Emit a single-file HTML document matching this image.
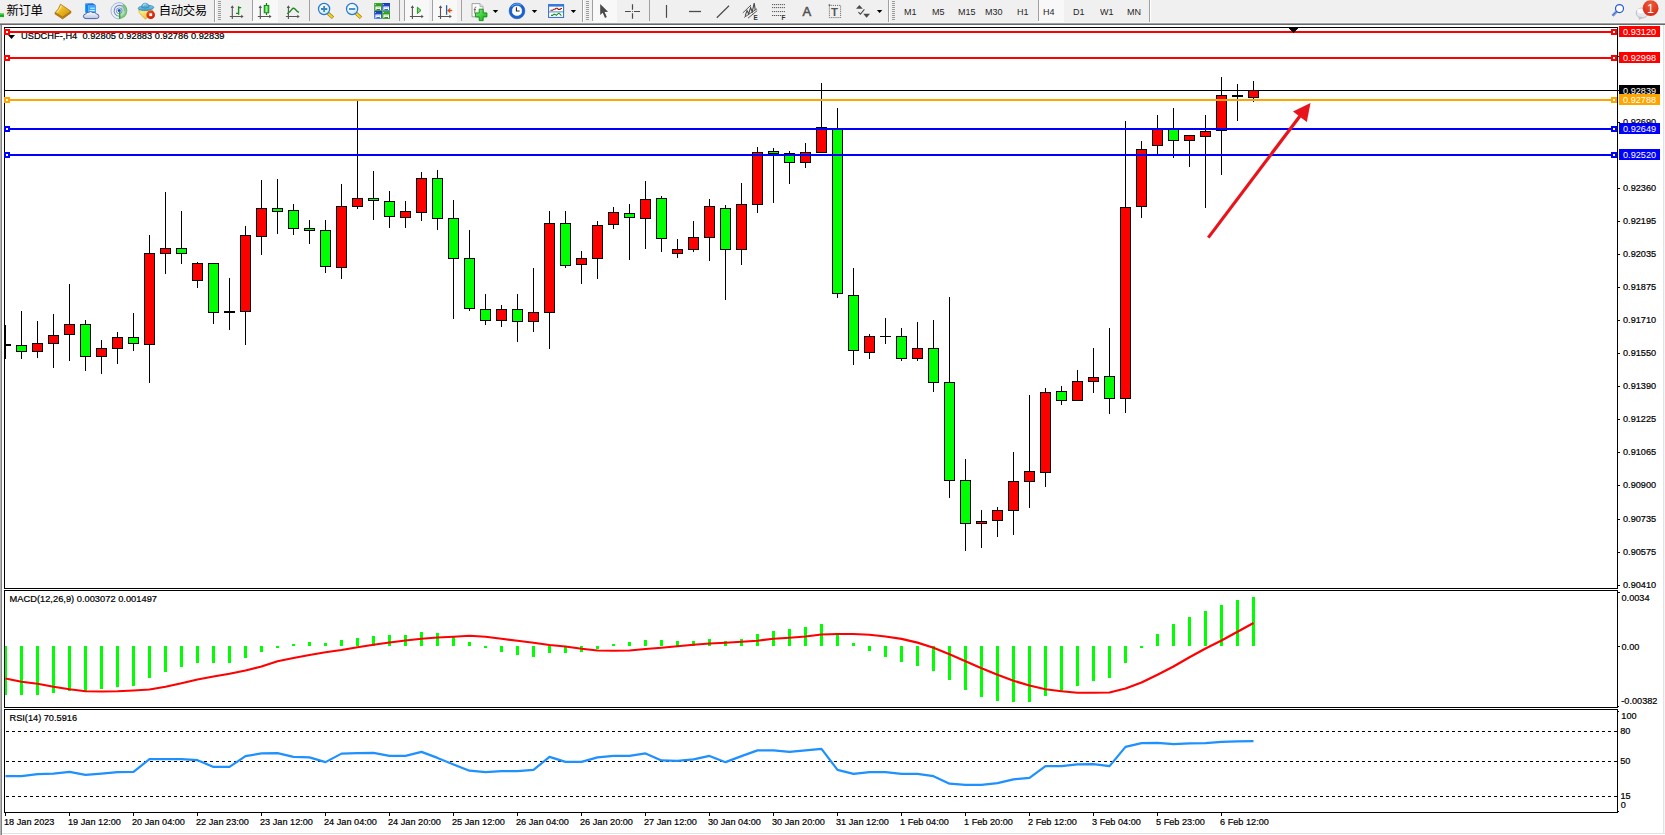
<!DOCTYPE html>
<html lang="zh-CN">
<head>
<meta charset="utf-8">
<title>USDCHF-,H4</title>
<style>
html,body{margin:0;padding:0;}
body{width:1665px;height:835px;overflow:hidden;background:#fff;position:relative;font-family:"Liberation Sans","Noto Sans CJK SC",sans-serif;}
#tb{position:absolute;left:0;top:0;width:1665px;height:23px;background:#f0f0f0;}
#tbline{position:absolute;left:0;top:22px;width:1665px;height:3px;background:linear-gradient(#f6f6f6 0,#f6f6f6 33%,#a0a0a0 33%,#a0a0a0 66%,#696969 66%);}
#edgeL{position:absolute;left:0;top:25px;width:2px;height:810px;background:linear-gradient(90deg,#b4b4b4 50%,#828282 50%);}
#edgeR{position:absolute;left:1663px;top:25px;width:2px;height:810px;background:linear-gradient(90deg,#e3e3e3 50%,#f6f6f6 50%);}
#edgeB{position:absolute;left:2px;top:833px;width:1663px;height:2px;background:linear-gradient(#e3e3e3 50%,#fff 50%);}
#chart{position:absolute;left:0;top:0;}
#chart text{font-family:"Liberation Sans",sans-serif;stroke-width:.22px;paint-order:stroke;}
.tf{position:absolute;top:7.1px;font-size:9.3px;color:#262626;line-height:11px;white-space:nowrap;transform:scaleX(.97);transform-origin:0 0;}
.cn{position:absolute;top:1.6px;font-size:12.4px;font-weight:400;letter-spacing:-.4px;line-height:18px;color:#000;white-space:nowrap;font-family:"Liberation Sans","Noto Sans CJK SC",sans-serif;}
.sep{position:absolute;top:0;width:1px;height:21px;background:#a0a0a0;}
.sep.full{height:23px;box-shadow:1px 0 0 #fff;}
.grip{position:absolute;top:1px;width:3px;height:20px;background:repeating-linear-gradient(#9a9a9a 0,#9a9a9a 1px,transparent 1px,transparent 2px);}
.pressed{position:absolute;top:0;height:21px;background:#f8f8f8;box-shadow:inset 1px 0 0 #a0a0a0,0 1px 0 #fff;}
.ico{position:absolute;top:0;left:0;}
</style>
</head>
<body>
<div id="tb">
<div class="pressed" style="left:252px;width:26px"></div>
<div class="pressed" style="left:404px;width:25px"></div>
<div class="pressed" style="left:432px;width:25px"></div>
<div class="pressed" style="left:592px;width:25px"></div>
<div class="pressed" style="left:1038px;width:26px"></div>
<div class="sep full" style="left:214px"></div><div class="grip" style="left:218px"></div>
<div class="sep" style="left:309px"></div>
<div class="sep" style="left:399px"></div>
<div class="sep" style="left:461px"></div>
<div class="sep full" style="left:582px"></div><div class="grip" style="left:586px"></div>
<div class="sep" style="left:649px"></div>
<div class="sep full" style="left:888px"></div><div class="grip" style="left:892px"></div>
<div class="sep full" style="left:1149px"></div>
<span class="cn" style="left:6.6px">新订单</span>
<span class="cn" style="left:158.7px">自动交易</span>
<span class="tf" style="left:903.5px">M1</span>
<span class="tf" style="left:931.7px">M5</span>
<span class="tf" style="left:957.5px">M15</span>
<span class="tf" style="left:985.4px">M30</span>
<span class="tf" style="left:1016.6px">H1</span>
<span class="tf" style="left:1043.4px">H4</span>
<span class="tf" style="left:1072.8px">D1</span>
<span class="tf" style="left:1100px">W1</span>
<span class="tf" style="left:1126.8px">MN</span>
<svg class="ico" width="1665" height="23" viewBox="0 0 1665 23">
<defs>
<linearGradient id="gold" x1="0" y1="0" x2="1" y2="1"><stop offset="0" stop-color="#fbe27a"/><stop offset=".5" stop-color="#e9b41c"/><stop offset="1" stop-color="#c98a10"/></linearGradient>
<linearGradient id="cloud" x1="0" y1="0" x2="0" y2="1"><stop offset="0" stop-color="#ffffff"/><stop offset="1" stop-color="#b9c6e2"/></linearGradient>
<linearGradient id="hat" x1="0" y1="0" x2="0" y2="1"><stop offset="0" stop-color="#8fd0ee"/><stop offset="1" stop-color="#3c9ccc"/></linearGradient>
<linearGradient id="face" x1="0" y1="0" x2="1" y2="1"><stop offset="0" stop-color="#fff7a0"/><stop offset="1" stop-color="#e8b820"/></linearGradient>
<radialGradient id="stop" cx=".4" cy=".35" r=".7"><stop offset="0" stop-color="#f0502a"/><stop offset="1" stop-color="#c81800"/></radialGradient>
<linearGradient id="cndl" x1="0" y1="0" x2="1" y2="0"><stop offset="0" stop-color="#22b822"/><stop offset=".5" stop-color="#8cff8c"/><stop offset="1" stop-color="#22b822"/></linearGradient>
<radialGradient id="lens" cx=".4" cy=".35" r=".8"><stop offset="0" stop-color="#ffffff"/><stop offset="1" stop-color="#bfe6fa"/></radialGradient>
<linearGradient id="plus" x1="0" y1="0" x2="1" y2="1"><stop offset="0" stop-color="#7cf07c"/><stop offset="1" stop-color="#12b012"/></linearGradient>
<radialGradient id="badge" cx=".5" cy=".25" r=".9"><stop offset="0" stop-color="#ee5a38"/><stop offset="1" stop-color="#d42010"/></radialGradient>
<linearGradient id="tlg" x1="0" y1="0" x2="0" y2="1"><stop offset="0" stop-color="#3aa82a"/><stop offset="1" stop-color="#2a8c18"/></linearGradient>
<linearGradient id="tlb" x1="0" y1="0" x2="0" y2="1"><stop offset="0" stop-color="#1838b8"/><stop offset="1" stop-color="#3a74e0"/></linearGradient>
<g id="axes" fill="none" stroke="#555" stroke-width="1.1">
 <path d="M2.5 6.5V19M0 16.5H12.5"/><path d="M.8 8L2.5 5.2L4.2 8M11.4 14.8L13.8 16.5L11.4 18.2" fill="#555" stroke="none"/>
</g>
<path id="dd" d="M0 0h5.4l-2.7 3z" fill="#000"/>
</defs>
<!-- new order (clipped green plus) -->
<rect x="0" y="13.5" width="4" height="3.6" fill="#18b018"/><rect x="0" y="13.5" width="4" height="1" fill="#5ce05c"/>
<!-- book -->
<path d="M55.2 12.5L62.6 17.1L70.9 11.3V12.9L62.6 18.9L55 13.9Z" fill="#c48a14" stroke="#9a640c" stroke-width=".7" stroke-linejoin="round"/>
<path d="M60.5 4.2L70.9 11.3L62.6 17.1L55.2 12.5Q58.8 9.4 60.5 4.2Z" fill="url(#gold)" stroke="#a8700e" stroke-width=".8" stroke-linejoin="round"/>
<path d="M61.4 5.6Q59.8 9.8 56.8 12.4" stroke="#fff2a8" stroke-width=".9" fill="none"/>
<!-- server + cloud -->
<path d="M85.2 3.6L88.5 5.2V14L85.2 12.4Z" fill="#0a88f0"/>
<path d="M88.5 5.2H96V14H88.5Z" fill="#38a8ff"/>
<path d="M85.2 3.6L92.8 3.2L96 5.2H88.5Z" fill="#1e6ee0"/>
<path d="M90.2 8.2h4.6M89.6 10.6h5.2" stroke="#fff" stroke-width=".9"/>
<path d="M86 18.6Q83.4 18.6 83.4 16.2Q83.4 14.2 85.8 14Q86.4 12 88.6 12.4Q90.6 10.6 92.8 12.6Q95.2 11.6 96.4 14Q99 14.2 98.9 16.4Q98.8 18.6 96.4 18.6Z" fill="url(#cloud)" stroke="#3a5aa8" stroke-width=".9"/>
<!-- signal -->
<defs><radialGradient id="sg" cx="119.2" cy="10.8" r="8.2" gradientUnits="userSpaceOnUse"><stop offset="0" stop-color="#e8f4e8"/><stop offset=".6" stop-color="#a8d8a8"/><stop offset="1" stop-color="#4aa84a"/></radialGradient></defs>
<g fill="none">
<path d="M119.2 10.8L119.2 18.9A8.1 8.1 0 0 0 127.3 10.8A8.1 8.1 0 0 0 123.2 3.8Z" fill="url(#sg)" opacity=".9"/>
<path d="M123.2 3.8A8.1 8.1 0 1 0 119.2 18.9" stroke="#5a82d4" stroke-width="1" opacity=".55"/>
<path d="M122 6A5.4 5.4 0 1 0 119.2 16.2" stroke="#3a68cc" stroke-width="1.1" opacity=".75"/>
<path d="M122 6A5.4 5.4 0 0 1 124.6 10.8" stroke="#6a9ad0" stroke-width="1" opacity=".7"/>
<circle cx="119.2" cy="10.8" r="2.9" stroke="#3a64c4" stroke-width=".9" opacity=".7"/>
<circle cx="119.2" cy="10.4" r="1.5" fill="#2050c8"/>
<path d="M119.7 11.5V18.8" stroke="#28a028" stroke-width="1.3"/>
</g>
<!-- hat + stop -->
<path d="M138.8 9.6Q138.4 12.6 141.4 15.2L145.6 19.2L152.8 10.4Z" fill="url(#face)" stroke="#d8a818" stroke-width=".8" stroke-linejoin="round"/>
<ellipse cx="146" cy="7.9" rx="7.8" ry="2.5" fill="url(#hat)" stroke="#2a88b8" stroke-width=".8" transform="rotate(-4 146 7.9)"/>
<path d="M141.6 7.6Q141.6 3.2 145.2 3.2Q148.8 3.2 149.2 7Q145.4 9 141.6 7.6Z" fill="url(#hat)" stroke="#2a88b8" stroke-width=".7"/>
<path d="M143 5.6Q144 4 146 4" stroke="#c8ecfa" stroke-width=".8" fill="none"/>
<circle cx="150.7" cy="14.7" r="4.3" fill="url(#stop)"/>
<rect x="149.3" y="13.3" width="2.8" height="2.8" fill="#fff"/>
<!-- chart type icons -->
<use href="#axes" x="229.8" y="0"/>
<path d="M238.6 6.2V14.8M238.6 7.6H241.2M236 13.4H238.6" stroke="#1e8a1e" stroke-width="1.4" fill="none"/>
<use href="#axes" x="257.8" y="0"/>
<path d="M266.5 3V15" stroke="#108010" stroke-width="1.2"/>
<rect x="264.2" y="5.4" width="4.6" height="7.4" fill="url(#cndl)" stroke="#108010" stroke-width=".9"/>
<use href="#axes" x="285.9" y="0"/>
<path d="M287.2 13.8Q290.6 11.6 292 9.2Q293.3 7.4 295 9Q297 11.6 299 12.4" stroke="#1e8a1e" stroke-width="1.3" fill="none"/>
<!-- zoom in/out -->
<g id="zi">
<path d="M328 13.2L333 17.8" stroke="#a8820a" stroke-width="3.4"/>
<path d="M328.2 13.4L332.6 17.4" stroke="#f0d428" stroke-width="2"/>
<circle cx="324.1" cy="9" r="5.6" fill="url(#lens)" stroke="#2a78d0" stroke-width="1.2"/>
</g>
<path d="M321 9H327.2M324.1 5.9V12.1" stroke="#3a88b8" stroke-width="1.8"/>
<use href="#zi" x="28"/>
<path d="M349 9H355.2" stroke="#3a88b8" stroke-width="1.8"/>
<!-- tiles -->
<g>
<rect x="374.2" y="3" width="7.8" height="7.8" fill="url(#tlg)"/><rect x="382.2" y="3" width="7.8" height="7.8" fill="url(#tlb)"/>
<rect x="374.2" y="11" width="7.8" height="7.8" fill="url(#tlb)"/><rect x="382.2" y="11" width="7.8" height="7.8" fill="url(#tlg)"/>
<path d="M375.4 6.6h5.6v3.4h-1v-1h-3.6v1h-1z" fill="#fff"/><path d="M383.4 6.6h5.6v3.4h-1v-1h-3.6v1h-1z" fill="#fff"/>
<path d="M375.4 14.6h5.6v3.4h-1v-1h-3.6v1h-1z" fill="#fff"/><path d="M383.4 14.6h5.6v3.4h-1v-1h-3.6v1h-1z" fill="#fff"/>
<path d="M376.6 7.7h3.2" stroke="#9ad48a" stroke-width=".7"/><path d="M384.4 7.7h1.4m.8 0h1.4" stroke="#8aa8ee" stroke-width=".7"/>
<path d="M376.4 15.7h1.4m.8 0h1.4" stroke="#8aa8ee" stroke-width=".7"/><path d="M384.6 15.7h3.2" stroke="#9ad48a" stroke-width=".7"/>
<rect x="375.2" y="4" width=".8" height=".8" fill="#fff"/><rect x="383.2" y="4" width=".8" height=".8" fill="#fff"/><rect x="375.2" y="12" width=".8" height=".8" fill="#fff"/><rect x="383.2" y="12" width=".8" height=".8" fill="#fff"/>
</g>
<!-- autoscroll / shift -->
<use href="#axes" x="409.9" y="0"/>
<path d="M417.4 7.2L421 10.4L417.4 13.6Z" fill="#6adc6a" stroke="#189018" stroke-width=".9" stroke-linejoin="round"/>
<use href="#axes" x="438" y="0"/>
<path d="M446.6 5.2V14.8" stroke="#1a6aa8" stroke-width="1.3"/>
<path d="M447.4 10.5L450.2 8.2L449.6 10H451.8V11H449.6L450.2 12.8Z" fill="#e04800" stroke="#e04800" stroke-width=".5" stroke-linejoin="round"/>
<!-- indicators -->
<path d="M472 3.6H480L483 6.6V16.8H472Z" fill="#fcfcfc" stroke="#9a9a9a" stroke-width=".9" stroke-linejoin="round"/>
<path d="M480 3.6V6.6H483" fill="#e4e4e4" stroke="#9a9a9a" stroke-width=".7"/>
<path d="M476.2 7.2Q475 6.8 474.8 8.4V13.6M473.8 9.6H476" stroke="#5a5040" stroke-width=".8" fill="none"/>
<path d="M479.2 9.2H483.2V12.9H486.9V16.9H483.2V20.6H479.2V16.9H475.5V12.9H479.2Z" fill="url(#plus)" stroke="#0e8a0e" stroke-width=".9"/>
<use href="#dd" x="492.8" y="10"/>
<!-- clock -->
<circle cx="517" cy="10.9" r="6.5" fill="#fff" stroke="#1a62d0" stroke-width="2.8"/>
<circle cx="517" cy="10.9" r="7.9" fill="none" stroke="#0e4ea8" stroke-width=".5"/>
<path d="M511.6 6.6A7 7 0 0 1 521.4 5.4" stroke="#5aa4f0" stroke-width="1.2" fill="none"/>
<path d="M516.4 7.2V11H519.6" stroke="#222" stroke-width="1.1" fill="none"/>
<path d="M517 5.6v1M517 15.2v1M511.8 10.9h1M521.2 10.9h1" stroke="#8a9ab0" stroke-width=".7"/>
<use href="#dd" x="531.8" y="10"/>
<!-- template -->
<rect x="548.6" y="4.6" width="15" height="12.8" fill="#fff" stroke="#2a68c8" stroke-width="1"/>
<rect x="548.6" y="4.6" width="15" height="2" fill="#3a7ae0"/>
<path d="M549 11.9H563.4" stroke="#2a68c8" stroke-width=".8"/>
<path d="M550.4 10.3H552.6L553.8 9.2H555L556 8.3H557.2L558.4 9.4H560L561 8.5H562" stroke="#9a1a00" stroke-width="1.1" fill="none"/>
<path d="M551 15.4H552.6L553.8 14.4H555L556.4 15.4L557.6 14.2L558.8 13.2L560 14.2L561.4 15.6" stroke="#109020" stroke-width="1.1" fill="none"/>
<use href="#dd" x="570.7" y="10"/>
<!-- cursor -->
<path d="M600.2 3.9V14.9L602.7 12.7L605 17.9L606.8 17.1L604.6 12.1L608.1 11.7Z" fill="#4a4a4a"/>
<!-- crosshair -->
<path d="M625 11.5H630.8M634 11.5H640M632.5 4.2V9.8M632.5 13.2V18.8" stroke="#4a4a4a" stroke-width="1.2"/>
<rect x="632" y="11" width="1" height="1" fill="#6a6a4a"/>
<!-- line tools -->
<path d="M666.5 5V17.8" stroke="#4a4a4a" stroke-width="1.2"/>
<path d="M689 11.5H701" stroke="#4a4a4a" stroke-width="1.3"/>
<path d="M716.8 17.7L729 5.8" stroke="#4a4a4a" stroke-width="1.2"/>
<!-- channel -->
<g stroke="#484848" stroke-width=".9" fill="none">
<path d="M742.8 12.9L751 5M744.2 17.4L757 8.8M748 18.2L757.2 10.6"/>
<path d="M745.2 15.8L747 10.4L748.6 14L750.6 7.6L752.2 11.8L754.2 3.2L755.2 9.8" stroke-width="1.1"/>
</g>
<text x="753.4" y="19.8" font-size="6.4" font-weight="bold" fill="#333" font-family="Liberation Sans,sans-serif">E</text>
<!-- fibo -->
<path d="M772.2 4.6H785M772.2 7.6H785M772.2 11.6H785M772.2 15.5H781.4" stroke="#333" stroke-width="1" stroke-dasharray="1 1"/>
<text x="781.6" y="19.8" font-size="6.4" font-weight="bold" fill="#333" font-family="Liberation Sans,sans-serif">F</text>
<!-- A / T -->
<text x="802.4" y="15.9" font-size="13" fill="#505050" stroke="#505050" stroke-width=".5" font-family="Liberation Sans,sans-serif">A</text>
<rect x="829.4" y="5.4" width="11.2" height="12.2" fill="none" stroke="#4a4a4a" stroke-width=".9" stroke-dasharray=".9 1"/>
<rect x="828.6" y="4.4" width="1.6" height="1.2" fill="#4a4a4a"/>
<text x="831" y="15.9" font-size="11.4" font-weight="bold" fill="#555" font-family="Liberation Sans,sans-serif">T</text>
<!-- arrows -->
<path d="M856 8.8L859.4 5L862.8 8.8Z" fill="#4a4a4a"/>
<path d="M858.4 12.2L860.4 14.2L864.4 9.4" stroke="#4a4a4a" stroke-width="1.1" fill="none"/>
<path d="M863.2 13.8L866.6 17.8L870 13.8Z" fill="#4a4a4a"/>
<use href="#dd" x="876.9" y="10"/>
<!-- search -->
<circle cx="1619.5" cy="8.6" r="4" fill="#fdfdff" stroke="#2458d4" stroke-width="1.2"/>
<path d="M1616.8 11.4L1612.2 16" stroke="#2458d4" stroke-width="2.5" stroke-dasharray=".9 .4"/>
<!-- chat + badge -->
<ellipse cx="1642" cy="13" rx="5.8" ry="5" fill="#e6e6ee" stroke="#b4b4b8" stroke-width=".8"/>
<path d="M1639 17L1639.4 19.6L1642 17.6Z" fill="#d8d8e0" stroke="#a8a8a8" stroke-width=".5"/>
<ellipse cx="1641.2" cy="11" rx="4" ry="2.4" fill="#fbfbfd"/>
<circle cx="1650.6" cy="8.2" r="7.9" fill="url(#badge)"/>
<text x="1650.6" y="13" font-size="12.5" fill="#fff" text-anchor="middle" font-family="Liberation Sans,sans-serif">1</text>
</svg>

</div>
<div id="tbline"></div>
<div id="edgeL"></div><div id="edgeR"></div><div id="edgeB"></div>
<svg id="chart" width="1665" height="835" viewBox="0 0 1665 835" shape-rendering="crispEdges">
<rect x="4" y="27" width="1614" height="1" fill="#000000"/>
<rect x="4" y="588" width="1614" height="1" fill="#000000"/>
<rect x="4" y="27" width="1" height="562" fill="#000000"/>
<rect x="1617" y="27" width="1" height="562" fill="#000000"/>
<rect x="4" y="590" width="1614" height="1" fill="#000000"/>
<rect x="4" y="707" width="1614" height="1" fill="#000000"/>
<rect x="4" y="590" width="1" height="118" fill="#000000"/>
<rect x="1617" y="590" width="1" height="118" fill="#000000"/>
<rect x="4" y="709" width="1614" height="1" fill="#000000"/>
<rect x="4" y="812" width="1614" height="1" fill="#000000"/>
<rect x="4" y="709" width="1" height="104" fill="#000000"/>
<rect x="1617" y="709" width="1" height="104" fill="#000000"/>
<rect x="5" y="325" width="1" height="34" fill="#000000"/>
<rect x="5" y="344" width="6" height="2" fill="#000000"/>
<rect x="21" y="311" width="1" height="48" fill="#000000"/>
<rect x="16" y="345" width="11" height="7" fill="#000000"/>
<rect x="17" y="346" width="9" height="5" fill="#00ff00"/>
<rect x="37" y="321" width="1" height="37" fill="#000000"/>
<rect x="32" y="343" width="11" height="9" fill="#000000"/>
<rect x="33" y="344" width="9" height="7" fill="#ff0000"/>
<rect x="53" y="314" width="1" height="54" fill="#000000"/>
<rect x="48" y="335" width="11" height="9" fill="#000000"/>
<rect x="49" y="336" width="9" height="7" fill="#ff0000"/>
<rect x="69" y="284" width="1" height="77" fill="#000000"/>
<rect x="64" y="324" width="11" height="11" fill="#000000"/>
<rect x="65" y="325" width="9" height="9" fill="#ff0000"/>
<rect x="85" y="320" width="1" height="51" fill="#000000"/>
<rect x="80" y="324" width="11" height="33" fill="#000000"/>
<rect x="81" y="325" width="9" height="31" fill="#00ff00"/>
<rect x="101" y="340" width="1" height="34" fill="#000000"/>
<rect x="96" y="348" width="11" height="9" fill="#000000"/>
<rect x="97" y="349" width="9" height="7" fill="#ff0000"/>
<rect x="117" y="332" width="1" height="32" fill="#000000"/>
<rect x="112" y="337" width="11" height="12" fill="#000000"/>
<rect x="113" y="338" width="9" height="10" fill="#ff0000"/>
<rect x="133" y="313" width="1" height="38" fill="#000000"/>
<rect x="128" y="337" width="11" height="7" fill="#000000"/>
<rect x="129" y="338" width="9" height="5" fill="#00ff00"/>
<rect x="149" y="235" width="1" height="148" fill="#000000"/>
<rect x="144" y="253" width="11" height="92" fill="#000000"/>
<rect x="145" y="254" width="9" height="90" fill="#ff0000"/>
<rect x="165" y="192" width="1" height="82" fill="#000000"/>
<rect x="160" y="248" width="11" height="6" fill="#000000"/>
<rect x="161" y="249" width="9" height="4" fill="#ff0000"/>
<rect x="181" y="211" width="1" height="53" fill="#000000"/>
<rect x="176" y="248" width="11" height="6" fill="#000000"/>
<rect x="177" y="249" width="9" height="4" fill="#00ff00"/>
<rect x="197" y="262" width="1" height="26" fill="#000000"/>
<rect x="192" y="263" width="11" height="18" fill="#000000"/>
<rect x="193" y="264" width="9" height="16" fill="#ff0000"/>
<rect x="213" y="263" width="1" height="61" fill="#000000"/>
<rect x="208" y="263" width="11" height="50" fill="#000000"/>
<rect x="209" y="264" width="9" height="48" fill="#00ff00"/>
<rect x="229" y="278" width="1" height="52" fill="#000000"/>
<rect x="224" y="311" width="11" height="2" fill="#000000"/>
<rect x="245" y="226" width="1" height="119" fill="#000000"/>
<rect x="240" y="235" width="11" height="77" fill="#000000"/>
<rect x="241" y="236" width="9" height="75" fill="#ff0000"/>
<rect x="261" y="180" width="1" height="75" fill="#000000"/>
<rect x="256" y="208" width="11" height="29" fill="#000000"/>
<rect x="257" y="209" width="9" height="27" fill="#ff0000"/>
<rect x="277" y="179" width="1" height="55" fill="#000000"/>
<rect x="272" y="208" width="11" height="4" fill="#000000"/>
<rect x="273" y="209" width="9" height="2" fill="#00ff00"/>
<rect x="293" y="204" width="1" height="31" fill="#000000"/>
<rect x="288" y="210" width="11" height="19" fill="#000000"/>
<rect x="289" y="211" width="9" height="17" fill="#00ff00"/>
<rect x="309" y="220" width="1" height="24" fill="#000000"/>
<rect x="304" y="228" width="11" height="3" fill="#000000"/>
<rect x="305" y="229" width="9" height="1" fill="#00ff00"/>
<rect x="325" y="220" width="1" height="53" fill="#000000"/>
<rect x="320" y="230" width="11" height="37" fill="#000000"/>
<rect x="321" y="231" width="9" height="35" fill="#00ff00"/>
<rect x="341" y="184" width="1" height="95" fill="#000000"/>
<rect x="336" y="206" width="11" height="62" fill="#000000"/>
<rect x="337" y="207" width="9" height="60" fill="#ff0000"/>
<rect x="357" y="101" width="1" height="108" fill="#000000"/>
<rect x="352" y="198" width="11" height="9" fill="#000000"/>
<rect x="353" y="199" width="9" height="7" fill="#ff0000"/>
<rect x="373" y="171" width="1" height="49" fill="#000000"/>
<rect x="368" y="198" width="11" height="3" fill="#000000"/>
<rect x="369" y="199" width="9" height="1" fill="#00ff00"/>
<rect x="389" y="191" width="1" height="37" fill="#000000"/>
<rect x="384" y="201" width="11" height="16" fill="#000000"/>
<rect x="385" y="202" width="9" height="14" fill="#00ff00"/>
<rect x="405" y="201" width="1" height="27" fill="#000000"/>
<rect x="400" y="211" width="11" height="7" fill="#000000"/>
<rect x="401" y="212" width="9" height="5" fill="#ff0000"/>
<rect x="421" y="172" width="1" height="49" fill="#000000"/>
<rect x="416" y="178" width="11" height="35" fill="#000000"/>
<rect x="417" y="179" width="9" height="33" fill="#ff0000"/>
<rect x="437" y="170" width="1" height="60" fill="#000000"/>
<rect x="432" y="178" width="11" height="41" fill="#000000"/>
<rect x="433" y="179" width="9" height="39" fill="#00ff00"/>
<rect x="453" y="200" width="1" height="119" fill="#000000"/>
<rect x="448" y="218" width="11" height="41" fill="#000000"/>
<rect x="449" y="219" width="9" height="39" fill="#00ff00"/>
<rect x="469" y="230" width="1" height="81" fill="#000000"/>
<rect x="464" y="258" width="11" height="51" fill="#000000"/>
<rect x="465" y="259" width="9" height="49" fill="#00ff00"/>
<rect x="485" y="294" width="1" height="31" fill="#000000"/>
<rect x="480" y="309" width="11" height="12" fill="#000000"/>
<rect x="481" y="310" width="9" height="10" fill="#00ff00"/>
<rect x="501" y="305" width="1" height="22" fill="#000000"/>
<rect x="496" y="309" width="11" height="12" fill="#000000"/>
<rect x="497" y="310" width="9" height="10" fill="#ff0000"/>
<rect x="517" y="294" width="1" height="48" fill="#000000"/>
<rect x="512" y="309" width="11" height="13" fill="#000000"/>
<rect x="513" y="310" width="9" height="11" fill="#00ff00"/>
<rect x="533" y="268" width="1" height="64" fill="#000000"/>
<rect x="528" y="312" width="11" height="10" fill="#000000"/>
<rect x="529" y="313" width="9" height="8" fill="#ff0000"/>
<rect x="549" y="211" width="1" height="138" fill="#000000"/>
<rect x="544" y="223" width="11" height="90" fill="#000000"/>
<rect x="545" y="224" width="9" height="88" fill="#ff0000"/>
<rect x="565" y="211" width="1" height="57" fill="#000000"/>
<rect x="560" y="223" width="11" height="43" fill="#000000"/>
<rect x="561" y="224" width="9" height="41" fill="#00ff00"/>
<rect x="581" y="251" width="1" height="33" fill="#000000"/>
<rect x="576" y="258" width="11" height="7" fill="#000000"/>
<rect x="577" y="259" width="9" height="5" fill="#ff0000"/>
<rect x="597" y="221" width="1" height="58" fill="#000000"/>
<rect x="592" y="225" width="11" height="34" fill="#000000"/>
<rect x="593" y="226" width="9" height="32" fill="#ff0000"/>
<rect x="613" y="207" width="1" height="22" fill="#000000"/>
<rect x="608" y="212" width="11" height="13" fill="#000000"/>
<rect x="609" y="213" width="9" height="11" fill="#ff0000"/>
<rect x="629" y="204" width="1" height="56" fill="#000000"/>
<rect x="624" y="213" width="11" height="5" fill="#000000"/>
<rect x="625" y="214" width="9" height="3" fill="#00ff00"/>
<rect x="645" y="181" width="1" height="68" fill="#000000"/>
<rect x="640" y="199" width="11" height="20" fill="#000000"/>
<rect x="641" y="200" width="9" height="18" fill="#ff0000"/>
<rect x="661" y="196" width="1" height="56" fill="#000000"/>
<rect x="656" y="198" width="11" height="41" fill="#000000"/>
<rect x="657" y="199" width="9" height="39" fill="#00ff00"/>
<rect x="677" y="239" width="1" height="19" fill="#000000"/>
<rect x="672" y="249" width="11" height="5" fill="#000000"/>
<rect x="673" y="250" width="9" height="3" fill="#ff0000"/>
<rect x="693" y="221" width="1" height="31" fill="#000000"/>
<rect x="688" y="237" width="11" height="13" fill="#000000"/>
<rect x="689" y="238" width="9" height="11" fill="#ff0000"/>
<rect x="709" y="199" width="1" height="62" fill="#000000"/>
<rect x="704" y="206" width="11" height="32" fill="#000000"/>
<rect x="705" y="207" width="9" height="30" fill="#ff0000"/>
<rect x="725" y="205" width="1" height="95" fill="#000000"/>
<rect x="720" y="208" width="11" height="42" fill="#000000"/>
<rect x="721" y="209" width="9" height="40" fill="#00ff00"/>
<rect x="741" y="183" width="1" height="82" fill="#000000"/>
<rect x="736" y="204" width="11" height="46" fill="#000000"/>
<rect x="737" y="205" width="9" height="44" fill="#ff0000"/>
<rect x="757" y="147" width="1" height="66" fill="#000000"/>
<rect x="752" y="152" width="11" height="53" fill="#000000"/>
<rect x="753" y="153" width="9" height="51" fill="#ff0000"/>
<rect x="773" y="148" width="1" height="55" fill="#000000"/>
<rect x="768" y="151" width="11" height="3" fill="#000000"/>
<rect x="769" y="152" width="9" height="1" fill="#00ff00"/>
<rect x="789" y="151" width="1" height="33" fill="#000000"/>
<rect x="784" y="153" width="11" height="10" fill="#000000"/>
<rect x="785" y="154" width="9" height="8" fill="#00ff00"/>
<rect x="805" y="143" width="1" height="25" fill="#000000"/>
<rect x="800" y="152" width="11" height="11" fill="#000000"/>
<rect x="801" y="153" width="9" height="9" fill="#ff0000"/>
<rect x="821" y="83" width="1" height="70" fill="#000000"/>
<rect x="816" y="127" width="11" height="26" fill="#000000"/>
<rect x="817" y="128" width="9" height="24" fill="#ff0000"/>
<rect x="837" y="108" width="1" height="190" fill="#000000"/>
<rect x="832" y="128" width="11" height="166" fill="#000000"/>
<rect x="833" y="129" width="9" height="164" fill="#00ff00"/>
<rect x="853" y="268" width="1" height="97" fill="#000000"/>
<rect x="848" y="295" width="11" height="56" fill="#000000"/>
<rect x="849" y="296" width="9" height="54" fill="#00ff00"/>
<rect x="869" y="334" width="1" height="25" fill="#000000"/>
<rect x="864" y="336" width="11" height="17" fill="#000000"/>
<rect x="865" y="337" width="9" height="15" fill="#ff0000"/>
<rect x="885" y="318" width="1" height="26" fill="#000000"/>
<rect x="880" y="336" width="11" height="1" fill="#000000"/>
<rect x="901" y="328" width="1" height="33" fill="#000000"/>
<rect x="896" y="336" width="11" height="23" fill="#000000"/>
<rect x="897" y="337" width="9" height="21" fill="#00ff00"/>
<rect x="917" y="322" width="1" height="39" fill="#000000"/>
<rect x="912" y="348" width="11" height="11" fill="#000000"/>
<rect x="913" y="349" width="9" height="9" fill="#ff0000"/>
<rect x="933" y="320" width="1" height="72" fill="#000000"/>
<rect x="928" y="348" width="11" height="35" fill="#000000"/>
<rect x="929" y="349" width="9" height="33" fill="#00ff00"/>
<rect x="949" y="297" width="1" height="201" fill="#000000"/>
<rect x="944" y="382" width="11" height="99" fill="#000000"/>
<rect x="945" y="383" width="9" height="97" fill="#00ff00"/>
<rect x="965" y="459" width="1" height="92" fill="#000000"/>
<rect x="960" y="480" width="11" height="44" fill="#000000"/>
<rect x="961" y="481" width="9" height="42" fill="#00ff00"/>
<rect x="981" y="510" width="1" height="38" fill="#000000"/>
<rect x="976" y="521" width="11" height="3" fill="#000000"/>
<rect x="977" y="522" width="9" height="1" fill="#ff0000"/>
<rect x="997" y="507" width="1" height="30" fill="#000000"/>
<rect x="992" y="510" width="11" height="11" fill="#000000"/>
<rect x="993" y="511" width="9" height="9" fill="#ff0000"/>
<rect x="1013" y="452" width="1" height="83" fill="#000000"/>
<rect x="1008" y="481" width="11" height="30" fill="#000000"/>
<rect x="1009" y="482" width="9" height="28" fill="#ff0000"/>
<rect x="1029" y="395" width="1" height="113" fill="#000000"/>
<rect x="1024" y="471" width="11" height="11" fill="#000000"/>
<rect x="1025" y="472" width="9" height="9" fill="#ff0000"/>
<rect x="1045" y="388" width="1" height="99" fill="#000000"/>
<rect x="1040" y="392" width="11" height="81" fill="#000000"/>
<rect x="1041" y="393" width="9" height="79" fill="#ff0000"/>
<rect x="1061" y="386" width="1" height="19" fill="#000000"/>
<rect x="1056" y="391" width="11" height="10" fill="#000000"/>
<rect x="1057" y="392" width="9" height="8" fill="#00ff00"/>
<rect x="1077" y="370" width="1" height="31" fill="#000000"/>
<rect x="1072" y="381" width="11" height="20" fill="#000000"/>
<rect x="1073" y="382" width="9" height="18" fill="#ff0000"/>
<rect x="1093" y="348" width="1" height="45" fill="#000000"/>
<rect x="1088" y="377" width="11" height="5" fill="#000000"/>
<rect x="1089" y="378" width="9" height="3" fill="#ff0000"/>
<rect x="1109" y="328" width="1" height="86" fill="#000000"/>
<rect x="1104" y="376" width="11" height="23" fill="#000000"/>
<rect x="1105" y="377" width="9" height="21" fill="#00ff00"/>
<rect x="1125" y="121" width="1" height="292" fill="#000000"/>
<rect x="1120" y="207" width="11" height="192" fill="#000000"/>
<rect x="1121" y="208" width="9" height="190" fill="#ff0000"/>
<rect x="1141" y="141" width="1" height="77" fill="#000000"/>
<rect x="1136" y="149" width="11" height="58" fill="#000000"/>
<rect x="1137" y="150" width="9" height="56" fill="#ff0000"/>
<rect x="1157" y="115" width="1" height="39" fill="#000000"/>
<rect x="1152" y="128" width="11" height="18" fill="#000000"/>
<rect x="1153" y="129" width="9" height="16" fill="#ff0000"/>
<rect x="1173" y="108" width="1" height="50" fill="#000000"/>
<rect x="1168" y="128" width="11" height="13" fill="#000000"/>
<rect x="1169" y="129" width="9" height="11" fill="#00ff00"/>
<rect x="1189" y="135" width="1" height="32" fill="#000000"/>
<rect x="1184" y="135" width="11" height="6" fill="#000000"/>
<rect x="1185" y="136" width="9" height="4" fill="#ff0000"/>
<rect x="1205" y="115" width="1" height="93" fill="#000000"/>
<rect x="1200" y="131" width="11" height="6" fill="#000000"/>
<rect x="1201" y="132" width="9" height="4" fill="#ff0000"/>
<rect x="1221" y="77" width="1" height="98" fill="#000000"/>
<rect x="1216" y="95" width="11" height="36" fill="#000000"/>
<rect x="1217" y="96" width="9" height="34" fill="#ff0000"/>
<rect x="1237" y="84" width="1" height="37" fill="#000000"/>
<rect x="1232" y="95" width="11" height="2" fill="#000000"/>
<rect x="1253" y="81" width="1" height="21" fill="#000000"/>
<rect x="1248" y="90" width="11" height="8" fill="#000000"/>
<rect x="1249" y="91" width="9" height="6" fill="#ff0000"/>
<path d="M8 35h7l-3.5 4z" fill="#000" shape-rendering="geometricPrecision"/>
<text transform="translate(21 38.6) scale(0.955 1)" fill="#000" stroke="#000" font-size="9.6" xml:space="preserve" textLength="213.09" lengthAdjust="spacingAndGlyphs">USDCHF-,H4&#160; 0.92805 0.92883 0.92786 0.92839</text>
<rect x="1618" y="122" width="2" height="1" fill="#000000"/>
<text transform="translate(1623 125.0) scale(0.955 1)" fill="#000" stroke="#000" font-size="9.6" >0.92690</text>
<rect x="1618" y="188" width="2" height="1" fill="#000000"/>
<text transform="translate(1623 191.0) scale(0.955 1)" fill="#000" stroke="#000" font-size="9.6" >0.92360</text>
<rect x="1618" y="221" width="2" height="1" fill="#000000"/>
<text transform="translate(1623 224.0) scale(0.955 1)" fill="#000" stroke="#000" font-size="9.6" >0.92195</text>
<rect x="1618" y="254" width="2" height="1" fill="#000000"/>
<text transform="translate(1623 257.0) scale(0.955 1)" fill="#000" stroke="#000" font-size="9.6" >0.92035</text>
<rect x="1618" y="287" width="2" height="1" fill="#000000"/>
<text transform="translate(1623 290.0) scale(0.955 1)" fill="#000" stroke="#000" font-size="9.6" >0.91875</text>
<rect x="1618" y="320" width="2" height="1" fill="#000000"/>
<text transform="translate(1623 323.0) scale(0.955 1)" fill="#000" stroke="#000" font-size="9.6" >0.91710</text>
<rect x="1618" y="353" width="2" height="1" fill="#000000"/>
<text transform="translate(1623 356.0) scale(0.955 1)" fill="#000" stroke="#000" font-size="9.6" >0.91550</text>
<rect x="1618" y="386" width="2" height="1" fill="#000000"/>
<text transform="translate(1623 389.0) scale(0.955 1)" fill="#000" stroke="#000" font-size="9.6" >0.91390</text>
<rect x="1618" y="419" width="2" height="1" fill="#000000"/>
<text transform="translate(1623 422.0) scale(0.955 1)" fill="#000" stroke="#000" font-size="9.6" >0.91225</text>
<rect x="1618" y="452" width="2" height="1" fill="#000000"/>
<text transform="translate(1623 455.0) scale(0.955 1)" fill="#000" stroke="#000" font-size="9.6" >0.91065</text>
<rect x="1618" y="485" width="2" height="1" fill="#000000"/>
<text transform="translate(1623 488.0) scale(0.955 1)" fill="#000" stroke="#000" font-size="9.6" >0.90900</text>
<rect x="1618" y="519" width="2" height="1" fill="#000000"/>
<text transform="translate(1623 522.0) scale(0.955 1)" fill="#000" stroke="#000" font-size="9.6" >0.90735</text>
<rect x="1618" y="552" width="2" height="1" fill="#000000"/>
<text transform="translate(1623 555.0) scale(0.955 1)" fill="#000" stroke="#000" font-size="9.6" >0.90575</text>
<rect x="1618" y="585" width="2" height="1" fill="#000000"/>
<text transform="translate(1623 588.0) scale(0.955 1)" fill="#000" stroke="#000" font-size="9.6" >0.90410</text>
<rect x="5" y="90" width="1614" height="1" fill="#000000"/>
<rect x="1618" y="56" width="2" height="1" fill="#000000"/>
<rect x="1619" y="85" width="41" height="11" fill="#000000"/>
<text transform="translate(1623 93.5) scale(0.955 1)" fill="#fff" font-size="9.6" >0.92839</text>
<rect x="5" y="99" width="1612" height="2" fill="#ffa500"/>
<rect x="4" y="97" width="6" height="6" fill="#ffa500"/>
<rect x="6" y="99" width="2" height="2" fill="#fff"/>
<rect x="1611" y="97" width="6" height="6" fill="#ffa500"/>
<rect x="1613" y="99" width="2" height="2" fill="#fff"/>
<rect x="1619" y="94" width="41" height="11" fill="#ffa500"/>
<text transform="translate(1623 102.5) scale(0.955 1)" fill="#fff" font-size="9.6" >0.92788</text>
<rect x="5" y="128" width="1612" height="2" fill="#0000ff"/>
<rect x="4" y="126" width="6" height="6" fill="#0000ff"/>
<rect x="6" y="128" width="2" height="2" fill="#fff"/>
<rect x="1611" y="126" width="6" height="6" fill="#0000ff"/>
<rect x="1613" y="128" width="2" height="2" fill="#fff"/>
<rect x="1619" y="123" width="41" height="11" fill="#0000ff"/>
<text transform="translate(1623 131.5) scale(0.955 1)" fill="#fff" font-size="9.6" >0.92649</text>
<rect x="5" y="154" width="1612" height="2" fill="#0000ff"/>
<rect x="4" y="152" width="6" height="6" fill="#0000ff"/>
<rect x="6" y="154" width="2" height="2" fill="#fff"/>
<rect x="1611" y="152" width="6" height="6" fill="#0000ff"/>
<rect x="1613" y="154" width="2" height="2" fill="#fff"/>
<rect x="1619" y="149" width="41" height="11" fill="#0000ff"/>
<text transform="translate(1623 157.5) scale(0.955 1)" fill="#fff" font-size="9.6" >0.92520</text>
<rect x="5" y="31" width="1612" height="2" fill="#ff0000"/>
<rect x="4" y="29" width="6" height="6" fill="#ff0000"/>
<rect x="6" y="31" width="2" height="2" fill="#fff"/>
<rect x="1611" y="29" width="6" height="6" fill="#ff0000"/>
<rect x="1613" y="31" width="2" height="2" fill="#fff"/>
<rect x="1619" y="26" width="41" height="11" fill="#ff0000"/>
<text transform="translate(1623 34.5) scale(0.955 1)" fill="#fff" font-size="9.6" >0.93120</text>
<rect x="5" y="57" width="1612" height="2" fill="#ff0000"/>
<rect x="4" y="55" width="6" height="6" fill="#ff0000"/>
<rect x="6" y="57" width="2" height="2" fill="#fff"/>
<rect x="1611" y="55" width="6" height="6" fill="#ff0000"/>
<rect x="1613" y="57" width="2" height="2" fill="#fff"/>
<rect x="1619" y="52" width="41" height="11" fill="#ff0000"/>
<text transform="translate(1623 60.5) scale(0.955 1)" fill="#fff" font-size="9.6" >0.92998</text>
<path d="M1288.5 28h10l-5 5.5z" fill="#000"/>
<g shape-rendering="geometricPrecision"><line x1="1208.3" y1="237.6" x2="1300" y2="116" stroke="#e8141c" stroke-width="3.2"/><path d="M1310.5 103L1293 111.5L1306.8 122z" fill="#e8141c"/></g>
<text transform="translate(9.5 602.0) scale(0.955 1)" fill="#000" stroke="#000" font-size="9.6"  textLength="154.45" lengthAdjust="spacingAndGlyphs">MACD(12,26,9) 0.003072 0.001497</text>
<rect x="5" y="646" width="2" height="49" fill="#00ff00"/>
<rect x="20" y="646" width="3" height="49" fill="#00ff00"/>
<rect x="36" y="646" width="3" height="49" fill="#00ff00"/>
<rect x="52" y="646" width="3" height="47" fill="#00ff00"/>
<rect x="68" y="646" width="3" height="45" fill="#00ff00"/>
<rect x="84" y="646" width="3" height="45" fill="#00ff00"/>
<rect x="100" y="646" width="3" height="43" fill="#00ff00"/>
<rect x="116" y="646" width="3" height="41" fill="#00ff00"/>
<rect x="132" y="646" width="3" height="40" fill="#00ff00"/>
<rect x="148" y="646" width="3" height="32" fill="#00ff00"/>
<rect x="164" y="646" width="3" height="26" fill="#00ff00"/>
<rect x="180" y="646" width="3" height="21" fill="#00ff00"/>
<rect x="196" y="646" width="3" height="17" fill="#00ff00"/>
<rect x="212" y="646" width="3" height="17" fill="#00ff00"/>
<rect x="228" y="646" width="3" height="17" fill="#00ff00"/>
<rect x="244" y="646" width="3" height="12" fill="#00ff00"/>
<rect x="260" y="646" width="3" height="6" fill="#00ff00"/>
<rect x="276" y="646" width="3" height="2" fill="#00ff00"/>
<rect x="292" y="644" width="3" height="2" fill="#00ff00"/>
<rect x="308" y="642" width="3" height="4" fill="#00ff00"/>
<rect x="324" y="643" width="3" height="3" fill="#00ff00"/>
<rect x="340" y="640" width="3" height="6" fill="#00ff00"/>
<rect x="356" y="638" width="3" height="8" fill="#00ff00"/>
<rect x="372" y="636" width="3" height="10" fill="#00ff00"/>
<rect x="388" y="635" width="3" height="11" fill="#00ff00"/>
<rect x="404" y="635" width="3" height="11" fill="#00ff00"/>
<rect x="420" y="632" width="3" height="14" fill="#00ff00"/>
<rect x="436" y="633" width="3" height="13" fill="#00ff00"/>
<rect x="452" y="637" width="3" height="9" fill="#00ff00"/>
<rect x="468" y="642" width="3" height="4" fill="#00ff00"/>
<rect x="484" y="646" width="3" height="2" fill="#00ff00"/>
<rect x="500" y="646" width="3" height="6" fill="#00ff00"/>
<rect x="516" y="646" width="3" height="9" fill="#00ff00"/>
<rect x="532" y="646" width="3" height="11" fill="#00ff00"/>
<rect x="548" y="646" width="3" height="7" fill="#00ff00"/>
<rect x="564" y="646" width="3" height="7" fill="#00ff00"/>
<rect x="580" y="646" width="3" height="6" fill="#00ff00"/>
<rect x="596" y="646" width="3" height="3" fill="#00ff00"/>
<rect x="612" y="644" width="3" height="2" fill="#00ff00"/>
<rect x="628" y="642" width="3" height="4" fill="#00ff00"/>
<rect x="644" y="640" width="3" height="6" fill="#00ff00"/>
<rect x="660" y="640" width="3" height="6" fill="#00ff00"/>
<rect x="676" y="641" width="3" height="5" fill="#00ff00"/>
<rect x="692" y="641" width="3" height="5" fill="#00ff00"/>
<rect x="708" y="639" width="3" height="7" fill="#00ff00"/>
<rect x="724" y="641" width="3" height="5" fill="#00ff00"/>
<rect x="740" y="639" width="3" height="7" fill="#00ff00"/>
<rect x="756" y="634" width="3" height="12" fill="#00ff00"/>
<rect x="772" y="631" width="3" height="15" fill="#00ff00"/>
<rect x="788" y="629" width="3" height="17" fill="#00ff00"/>
<rect x="804" y="627" width="3" height="19" fill="#00ff00"/>
<rect x="820" y="624" width="3" height="22" fill="#00ff00"/>
<rect x="836" y="634" width="3" height="12" fill="#00ff00"/>
<rect x="852" y="643" width="3" height="3" fill="#00ff00"/>
<rect x="868" y="646" width="3" height="5" fill="#00ff00"/>
<rect x="884" y="646" width="3" height="11" fill="#00ff00"/>
<rect x="900" y="646" width="3" height="16" fill="#00ff00"/>
<rect x="916" y="646" width="3" height="20" fill="#00ff00"/>
<rect x="932" y="646" width="3" height="25" fill="#00ff00"/>
<rect x="948" y="646" width="3" height="34" fill="#00ff00"/>
<rect x="964" y="646" width="3" height="44" fill="#00ff00"/>
<rect x="980" y="646" width="3" height="51" fill="#00ff00"/>
<rect x="996" y="646" width="3" height="55" fill="#00ff00"/>
<rect x="1012" y="646" width="3" height="56" fill="#00ff00"/>
<rect x="1028" y="646" width="3" height="56" fill="#00ff00"/>
<rect x="1044" y="646" width="3" height="50" fill="#00ff00"/>
<rect x="1060" y="646" width="3" height="45" fill="#00ff00"/>
<rect x="1076" y="646" width="3" height="40" fill="#00ff00"/>
<rect x="1092" y="646" width="3" height="35" fill="#00ff00"/>
<rect x="1108" y="646" width="3" height="32" fill="#00ff00"/>
<rect x="1124" y="646" width="3" height="17" fill="#00ff00"/>
<rect x="1140" y="646" width="3" height="2" fill="#00ff00"/>
<rect x="1156" y="634" width="3" height="12" fill="#00ff00"/>
<rect x="1172" y="624" width="3" height="22" fill="#00ff00"/>
<rect x="1188" y="617" width="3" height="29" fill="#00ff00"/>
<rect x="1204" y="611" width="3" height="35" fill="#00ff00"/>
<rect x="1220" y="605" width="3" height="41" fill="#00ff00"/>
<rect x="1236" y="600" width="3" height="46" fill="#00ff00"/>
<rect x="1252" y="597" width="3" height="49" fill="#00ff00"/>
<polyline points="5.5,678.50 21.5,681.75 37.5,683.75 53.5,686.75 69.5,689.25 85.5,691.25 101.5,691.50 117.5,691.25 133.5,690.50 149.5,689.50 165.5,686.75 181.5,683.25 197.5,679.50 213.5,676.50 229.5,673.75 245.5,670.50 261.5,666.50 277.5,661.25 293.5,658.00 309.5,655.00 325.5,652.25 341.5,650.00 357.5,647.25 373.5,644.75 389.5,642.50 405.5,640.50 421.5,638.75 437.5,637.50 453.5,636.75 469.5,635.75 485.5,636.75 501.5,638.75 517.5,640.75 533.5,642.75 549.5,645.00 565.5,646.50 581.5,648.75 597.5,650.50 613.5,650.75 629.5,650.50 645.5,649.00 661.5,647.75 677.5,646.25 693.5,644.75 709.5,643.50 725.5,642.75 741.5,641.75 757.5,640.75 773.5,638.75 789.5,637.75 805.5,636.50 821.5,634.50 837.5,634.00 853.5,634.00 869.5,634.75 885.5,636.50 901.5,638.90 917.5,642.60 933.5,647.70 949.5,654.25 965.5,661.25 981.5,668.25 997.5,674.75 1013.5,680.75 1029.5,685.50 1045.5,689.25 1061.5,691.25 1077.5,692.75 1093.5,692.75 1109.5,692.50 1125.5,688.50 1141.5,682.50 1157.5,674.75 1173.5,666.50 1189.5,657.25 1205.5,648.50 1221.5,640.50 1237.5,631.75 1253.5,623.00" fill="none" stroke="#ff0000" stroke-width="2.2" stroke-linejoin="round" shape-rendering="geometricPrecision"/>
<rect x="1618" y="592" width="2" height="1" fill="#000000"/>
<rect x="1618" y="646" width="2" height="1" fill="#000000"/>
<text transform="translate(1621.5 601) scale(0.955 1)" fill="#000" stroke="#000" font-size="9.6" >0.0034</text>
<text transform="translate(1621.5 650) scale(0.955 1)" fill="#000" stroke="#000" font-size="9.6" >0.00</text>
<text transform="translate(1621.3 703.5) scale(0.955 1)" fill="#000" stroke="#000" font-size="9.6" >-0.00382</text>
<text transform="translate(9.5 721.3) scale(0.955 1)" fill="#000" stroke="#000" font-size="9.6"  textLength="70.68" lengthAdjust="spacingAndGlyphs">RSI(14) 70.5916</text>
<path d="M6 731.5H1617" stroke="#000" stroke-width="1" stroke-dasharray="3 3" fill="none"/>
<path d="M6 761.5H1617" stroke="#000" stroke-width="1" stroke-dasharray="3 3" fill="none"/>
<path d="M6 796.5H1617" stroke="#000" stroke-width="1" stroke-dasharray="3 3" fill="none"/>
<polyline points="5.5,776.15 21.5,776.15 37.5,774.15 53.5,773.65 69.5,771.90 85.5,774.90 101.5,773.65 117.5,772.15 133.5,771.90 149.5,759.15 165.5,759.15 181.5,759.15 197.5,760.15 213.5,766.90 229.5,766.90 245.5,756.15 261.5,753.40 277.5,753.15 293.5,756.90 309.5,757.40 325.5,762.15 341.5,753.65 357.5,753.15 373.5,752.90 389.5,755.90 405.5,755.90 421.5,751.90 437.5,757.90 453.5,764.40 469.5,770.65 485.5,772.15 501.5,771.15 517.5,771.15 533.5,769.90 549.5,756.90 565.5,761.90 581.5,761.90 597.5,757.40 613.5,755.90 629.5,755.90 645.5,753.40 661.5,760.40 677.5,760.90 693.5,759.40 709.5,755.90 725.5,762.15 741.5,756.15 757.5,750.40 773.5,750.40 789.5,751.90 805.5,750.40 821.5,748.90 837.5,769.90 853.5,773.90 869.5,772.15 885.5,772.15 901.5,773.90 917.5,773.90 933.5,776.15 949.5,783.65 965.5,784.90 981.5,784.90 997.5,783.15 1013.5,779.40 1029.5,777.90 1045.5,766.15 1061.5,766.15 1077.5,764.40 1093.5,764.15 1109.5,766.15 1125.5,746.90 1141.5,743.15 1157.5,742.90 1173.5,744.15 1189.5,743.40 1205.5,743.15 1221.5,741.90 1237.5,741.40 1253.5,741.15" fill="none" stroke="#1e90ff" stroke-width="2.2" stroke-linejoin="round" shape-rendering="geometricPrecision"/>
<text transform="translate(1621.3 719.0) scale(0.955 1)" fill="#000" stroke="#000" font-size="9.6" >100</text>
<text transform="translate(1620.2 734.1) scale(0.955 1)" fill="#000" stroke="#000" font-size="9.6" >80</text>
<text transform="translate(1620.2 764.1) scale(0.955 1)" fill="#000" stroke="#000" font-size="9.6" >50</text>
<text transform="translate(1620.5 799.1) scale(0.955 1)" fill="#000" stroke="#000" font-size="9.6" >15</text>
<text transform="translate(1620.7 808.1) scale(0.955 1)" fill="#000" stroke="#000" font-size="9.6" >0</text>
<rect x="1618" y="706" width="1" height="1" fill="#000000"/>
<rect x="1618" y="711" width="1" height="1" fill="#000000"/>
<rect x="1618" y="811" width="1" height="1" fill="#000000"/>
<rect x="5" y="813" width="1" height="3" fill="#000000"/>
<text transform="translate(4 825) scale(0.955 1)" fill="#000" stroke="#000" font-size="9.6" >18 Jan 2023</text>
<rect x="69" y="813" width="1" height="3" fill="#000000"/>
<text transform="translate(68 825) scale(0.955 1)" fill="#000" stroke="#000" font-size="9.6" >19 Jan 12:00</text>
<rect x="133" y="813" width="1" height="3" fill="#000000"/>
<text transform="translate(132 825) scale(0.955 1)" fill="#000" stroke="#000" font-size="9.6" >20 Jan 04:00</text>
<rect x="197" y="813" width="1" height="3" fill="#000000"/>
<text transform="translate(196 825) scale(0.955 1)" fill="#000" stroke="#000" font-size="9.6" >22 Jan 23:00</text>
<rect x="261" y="813" width="1" height="3" fill="#000000"/>
<text transform="translate(260 825) scale(0.955 1)" fill="#000" stroke="#000" font-size="9.6" >23 Jan 12:00</text>
<rect x="325" y="813" width="1" height="3" fill="#000000"/>
<text transform="translate(324 825) scale(0.955 1)" fill="#000" stroke="#000" font-size="9.6" >24 Jan 04:00</text>
<rect x="389" y="813" width="1" height="3" fill="#000000"/>
<text transform="translate(388 825) scale(0.955 1)" fill="#000" stroke="#000" font-size="9.6" >24 Jan 20:00</text>
<rect x="453" y="813" width="1" height="3" fill="#000000"/>
<text transform="translate(452 825) scale(0.955 1)" fill="#000" stroke="#000" font-size="9.6" >25 Jan 12:00</text>
<rect x="517" y="813" width="1" height="3" fill="#000000"/>
<text transform="translate(516 825) scale(0.955 1)" fill="#000" stroke="#000" font-size="9.6" >26 Jan 04:00</text>
<rect x="581" y="813" width="1" height="3" fill="#000000"/>
<text transform="translate(580 825) scale(0.955 1)" fill="#000" stroke="#000" font-size="9.6" >26 Jan 20:00</text>
<rect x="645" y="813" width="1" height="3" fill="#000000"/>
<text transform="translate(644 825) scale(0.955 1)" fill="#000" stroke="#000" font-size="9.6" >27 Jan 12:00</text>
<rect x="709" y="813" width="1" height="3" fill="#000000"/>
<text transform="translate(708 825) scale(0.955 1)" fill="#000" stroke="#000" font-size="9.6" >30 Jan 04:00</text>
<rect x="773" y="813" width="1" height="3" fill="#000000"/>
<text transform="translate(772 825) scale(0.955 1)" fill="#000" stroke="#000" font-size="9.6" >30 Jan 20:00</text>
<rect x="837" y="813" width="1" height="3" fill="#000000"/>
<text transform="translate(836 825) scale(0.955 1)" fill="#000" stroke="#000" font-size="9.6" >31 Jan 12:00</text>
<rect x="901" y="813" width="1" height="3" fill="#000000"/>
<text transform="translate(900 825) scale(0.955 1)" fill="#000" stroke="#000" font-size="9.6" >1 Feb 04:00</text>
<rect x="965" y="813" width="1" height="3" fill="#000000"/>
<text transform="translate(964 825) scale(0.955 1)" fill="#000" stroke="#000" font-size="9.6" >1 Feb 20:00</text>
<rect x="1029" y="813" width="1" height="3" fill="#000000"/>
<text transform="translate(1028 825) scale(0.955 1)" fill="#000" stroke="#000" font-size="9.6" >2 Feb 12:00</text>
<rect x="1093" y="813" width="1" height="3" fill="#000000"/>
<text transform="translate(1092 825) scale(0.955 1)" fill="#000" stroke="#000" font-size="9.6" >3 Feb 04:00</text>
<rect x="1157" y="813" width="1" height="3" fill="#000000"/>
<text transform="translate(1156 825) scale(0.955 1)" fill="#000" stroke="#000" font-size="9.6" >5 Feb 23:00</text>
<rect x="1221" y="813" width="1" height="3" fill="#000000"/>
<text transform="translate(1220 825) scale(0.955 1)" fill="#000" stroke="#000" font-size="9.6" >6 Feb 12:00</text>
</svg>
</body>
</html>
